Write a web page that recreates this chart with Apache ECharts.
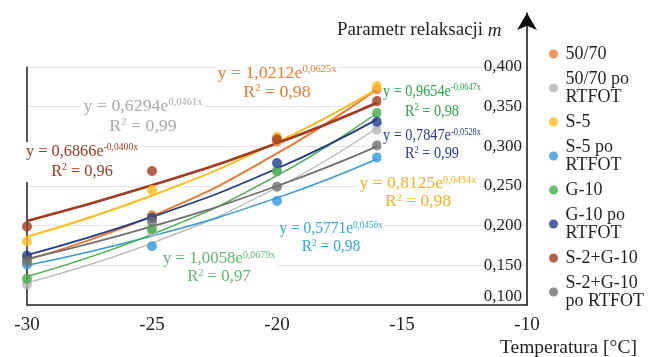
<!DOCTYPE html>
<html><head><meta charset="utf-8">
<script src="https://cdn.jsdelivr.net/npm/echarts@6/dist/echarts.min.js"></script>
<style>html,body{margin:0;padding:0;background:#fff}#c{width:650px;height:357px}</style>
</head><body><div id="c"></div>
<script>
// ---- data ----
const temps = [-30, -25, -20, -16];
const names = ['50/70', '50/70 po RTFOT', 'S-5', 'S-5 po RTFOT', 'G-10', 'G-10 po RTFOT', 'S-2+G-10', 'S-2+G-10 po RTFOT'];
const legendLabels = ['50/70', '50/70 po\nRTFOT', 'S-5', 'S-5 po\nRTFOT', 'G-10', 'G-10 po\nRTFOT', 'S-2+G-10', 'S-2+G-10\npo RTFOT'];
const yTicks = [0.1, 0.4, 0.05]; // min, max, step

// measured points
const pts5070   = [0.157, 0.213, 0.306, 0.372];
const pts5070R  = [0.126, 0.192, 0.268, 0.321];
const ptsS5     = [0.180, 0.245, 0.312, 0.376];
const ptsS5R    = [0.151, 0.174, 0.231, 0.286];
const ptsG10    = [0.133, 0.196, 0.269, 0.342];
const ptsG10R   = [0.162, 0.210, 0.279, 0.331];
const ptsS2G10  = [0.199, 0.269, 0.309, 0.357];
const ptsS2G10R = [0.155, 0.205, 0.249, 0.301];

// trend lines
const tr5070   = [0.157, 0.212, 0.291, 0.372];
const tr5070R  = [0.128, 0.178, 0.248, 0.323];
const trS5     = [0.186, 0.238, 0.305, 0.372];
const trS5R    = [0.150, 0.187, 0.235, 0.284];
const trG10    = [0.136, 0.189, 0.263, 0.342];
const trG10R   = [0.163, 0.211, 0.272, 0.334];
const trS2G10  = [0.206, 0.251, 0.304, 0.355];
const trS2G10R = [0.158, 0.199, 0.250, 0.300];

// trend equations
const eqCoef = ['0,6294', '0,6866', '1,0212', '0,9654', '0,7847', '0,8125', '0,5771', '1,0058'];
const eqExp  = ['0,0461x', '-0,0400x', '0,0625x', '-0,0647x', '-0,0528x', '0,0494x', '0,0456x', '0,0679x'];
const eqR2   = ['0,99', '0,96', '0,98', '0,98', '0,99', '0,98', '0,98', '0,97'];

// ---- styling / layout ----
const FONT = '"Liberation Serif", "Times New Roman", serif';
const colors = ['#ee7a30', '#b5b5b5', '#fbbd1c', '#3398dc', '#45ae4b', '#1f3c88', '#a3391e', '#707070'];
const lineWidths = [2, 1.2, 2, 1.5, 1.5, 1.8, 2.6, 1.8];
const eqColors = ['#aaaaaa', '#a0391e', '#ec7a30', '#2aa64a', '#253f8a', '#f6b21c', '#2aa9e1', '#5fb76d'];
const eqPos = [[143, 97], [82, 142], [277, 64], [432, 82], [432, 127], [418, 175], [331, 220], [219, 250]];
const eqScale = [1.05, 0.96, 1.05, 0.84, 0.84, 1.03, 0.91, 0.99];
const eqLine = [20, 20, 19, 20, 18, 18, 18, 18];

const pts = [pts5070, pts5070R, ptsS5, ptsS5R, ptsG10, ptsG10R, ptsS2G10, ptsS2G10R];
const trs = [tr5070, tr5070R, trS5, trS5R, trG10, trG10R, trS2G10, trS2G10R];

const series = [];
names.forEach((n, i) => {
  series.push({
    name: n + ' trend', type: 'line', smooth: true, showSymbol: false, silent: true,
    data: temps.map((t, j) => [t, trs[i][j]]),
    lineStyle: { color: colors[i], width: lineWidths[i] }, z: 2
  });
});
names.forEach((n, i) => {
  series.push({
    name: n, type: 'scatter', symbolSize: 10,
    data: temps.map((t, j) => [t, pts[i][j]]),
    itemStyle: { color: colors[i] }, z: 3
  });
});

const graphic = eqCoef.map((c, i) => ({
  type: 'text', x: eqPos[i][0], y: eqPos[i][1], scaleX: eqScale[i], z: 10,
  style: {
    text: '{m|y = ' + c + 'e}{s|' + eqExp[i] + '}\n{m|R}{s|2}{m| = ' + eqR2[i] + '}',
    align: 'center', verticalAlign: 'top',
    backgroundColor: '#fff', padding: [0, 2],
    rich: {
      m: { fontFamily: FONT, fontSize: 17, lineHeight: eqLine[i], fill: eqColors[i], color: eqColors[i] },
      s: { fontFamily: FONT, fontSize: 10, lineHeight: 11, verticalAlign: 'top', fill: eqColors[i], color: eqColors[i] }
    }
  }
}));

const chart = echarts.init(document.getElementById('c'));
chart.setOption({
  animation: false,
  backgroundColor: '#fff',
  title: [
    { text: '{a|Parametr relaksacji }{b|m}', left: 332, top: 16,
      textStyle: { fontWeight: 'normal', rich: {
        a: { fontFamily: FONT, fontSize: 19, fontWeight: 'normal', color: '#231f20' },
        b: { fontFamily: FONT, fontSize: 19, fontWeight: 'normal', fontStyle: 'italic', color: '#231f20' } } } },
    { text: 'Temperatura [°C]', left: 495, top: 333,
      textStyle: { fontFamily: FONT, fontSize: 19.5, fontWeight: 'normal', color: '#231f20' } }
  ],
  legend: {
    orient: 'vertical', left: 544, top: 40, itemWidth: 14, itemHeight: 9, itemGap: 7,
    icon: 'circle', data: names,
    formatter: n => legendLabels[names.indexOf(n)],
    textStyle: { fontFamily: FONT, fontSize: 18, lineHeight: 18, color: '#231f20' }
  },
  grid: [
    { left: 27, right: 123, top: 67, bottom: 52 },
    { left: 27, right: 123, top: 13, bottom: 52 }
  ],
  xAxis: [
    { gridIndex: 0, type: 'value', min: -30, max: -10, interval: 5,
      axisLine: { lineStyle: { color: '#231f20', width: 1.5 } }, axisTick: { show: false },
      splitLine: { show: false },
      axisLabel: { margin: 11, fontFamily: FONT, fontSize: 19, color: '#231f20' } },
    { gridIndex: 1, type: 'value', min: 0, max: 1, show: false }
  ],
  yAxis: [
    { gridIndex: 0, type: 'value', min: yTicks[0], max: yTicks[1], interval: yTicks[2], position: 'right',
      axisLine: { show: false }, axisTick: { show: false },
      axisLabel: { inside: true, margin: 5, fontFamily: FONT, fontSize: 17, color: '#231f20',
        verticalAlignMinLabel: 'bottom',
        formatter: v => v.toFixed(3).replace('.', ',') },
      splitLine: { lineStyle: { color: '#e4e4e4', width: 1 } } },
    { gridIndex: 0, type: 'value', min: yTicks[0], max: yTicks[1], interval: yTicks[2], position: 'left',
      axisLine: { show: true, onZero: false, lineStyle: { color: '#231f20', width: 1.5 } },
      axisTick: { show: false }, axisLabel: { show: false }, splitLine: { show: false } },
    { gridIndex: 1, type: 'value', min: 0, max: 1, position: 'right',
      axisLine: { show: true, onZero: false, symbol: ['none', 'arrow'], symbolSize: [15, 17], lineStyle: { color: '#111', width: 1.5 } },
      axisTick: { show: false }, axisLabel: { show: false }, splitLine: { show: false } }
  ],
  series: series,
  graphic: graphic
});
</script>
</body></html>
